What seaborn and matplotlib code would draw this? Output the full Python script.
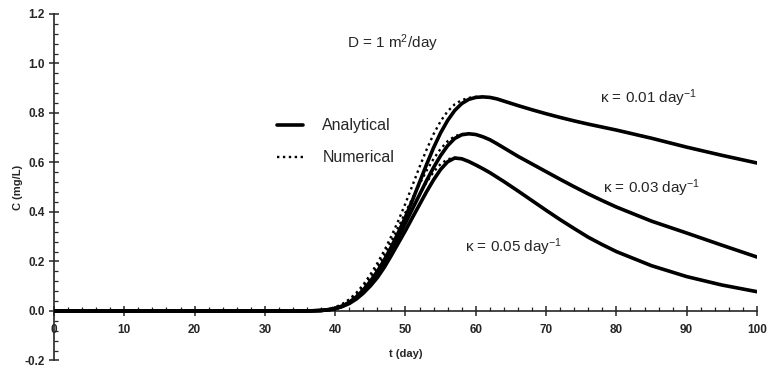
import matplotlib
matplotlib.use("Agg")
from matplotlib import pyplot as plt
from matplotlib.ticker import MultipleLocator, FormatStrFormatter
import seaborn as sns

# time (day)
t = [0, 30,
     36, 37, 38, 39, 40, 41, 42, 43, 44, 45, 46, 47, 48, 49, 50, 51,
     52, 53, 54, 55, 56, 57, 58, 59, 60, 61, 62, 63, 64, 65, 66,
     68, 70, 72, 74, 76, 78, 80, 85, 90, 95, 100]

# analytical solutions, C (mg/L)
ana_k01 = [0, 0,
           0, 0.001, 0.002, 0.005, 0.01, 0.02, 0.035, 0.057, 0.085, 0.12, 0.16, 0.207, 0.26, 0.318, 0.38, 0.448,
           0.52, 0.592, 0.66, 0.72, 0.77, 0.81, 0.838, 0.855, 0.863, 0.865, 0.863, 0.857, 0.848, 0.839, 0.83,
           0.813, 0.797, 0.782, 0.768, 0.755, 0.743, 0.731, 0.698, 0.662, 0.629, 0.598]
ana_k03 = [0, 0,
           0, 0.001, 0.002, 0.005, 0.01, 0.019, 0.033, 0.054, 0.08, 0.112, 0.15, 0.195, 0.245, 0.298, 0.355, 0.413,
           0.47, 0.527, 0.58, 0.628, 0.668, 0.697, 0.712, 0.716, 0.713, 0.704, 0.692, 0.676, 0.659, 0.642, 0.625,
           0.594, 0.563, 0.532, 0.502, 0.473, 0.446, 0.42, 0.363, 0.315, 0.266, 0.218]
ana_k05 = [0, 0,
           0, 0.001, 0.002, 0.005, 0.009, 0.018, 0.03, 0.048, 0.072, 0.101, 0.135, 0.177, 0.225, 0.275, 0.325, 0.378,
           0.43, 0.482, 0.53, 0.572, 0.603, 0.618, 0.615, 0.604, 0.59, 0.575, 0.559, 0.541, 0.523, 0.504, 0.485,
           0.446, 0.407, 0.369, 0.333, 0.298, 0.268, 0.24, 0.183, 0.139, 0.105, 0.078]

# numerical solutions, C (mg/L) -- rising limb; the falling limb overlaps the analytical one
num_k01_rise = [0, 0,
                0, 0.002, 0.004, 0.008, 0.015, 0.028, 0.047, 0.073, 0.106, 0.147, 0.193, 0.245, 0.303, 0.366, 0.435, 0.508,
                0.582, 0.652, 0.715, 0.767, 0.807, 0.835, 0.852, 0.861, 0.865, 0.865, 0.863]
num_k03_rise = [0, 0,
                0, 0.002, 0.004, 0.008, 0.014, 0.026, 0.044, 0.068, 0.099, 0.136, 0.18, 0.229, 0.283, 0.34, 0.398, 0.456,
                0.513, 0.567, 0.615, 0.655, 0.686, 0.706, 0.715, 0.716, 0.713]
num_k05_rise = [0, 0,
                0, 0.002, 0.004, 0.008, 0.013, 0.024, 0.04, 0.062, 0.09, 0.124, 0.165, 0.212, 0.262, 0.314, 0.367, 0.42,
                0.472, 0.52, 0.562, 0.594, 0.613, 0.619, 0.615]

num_k01 = num_k01_rise + ana_k01[len(num_k01_rise):]
num_k03 = num_k03_rise + ana_k03[len(num_k03_rise):]
num_k05 = num_k05_rise + ana_k05[len(num_k05_rise):]

kappa_labels = ["\u03ba = 0.01 day$^{-1}$", "\u03ba = 0.03 day$^{-1}$", "\u03ba = 0.05 day$^{-1}$"]

sns.set_style("ticks")
plt.rcParams["font.family"] = ["Liberation Sans", "DejaVu Sans"]
plt.rcParams["mathtext.default"] = "regular"

fig = plt.figure(figsize=(7.7, 3.68), dpi=100)
ax = fig.add_axes([0.0701, 0.0204, 0.9130, 0.9416])

for i, (a, n) in enumerate([(ana_k01, num_k01), (ana_k03, num_k03), (ana_k05, num_k05)]):
  sns.lineplot(x=t, y=n, ax=ax, color="black", lw=1.7, linestyle=(0, (1, 1.5)),
               label="Numerical" if i == 0 else None, zorder=2)
  sns.lineplot(x=t, y=a, ax=ax, color="black", lw=2.6,
               label="Analytical" if i == 0 else None, zorder=3)

ax.set_xlim(0, 100)
ax.set_ylim(-0.2, 1.2)
ax.spines[["top", "right"]].set_visible(False)
ax.spines["bottom"].set_position(("data", 0))
ax.spines["left"].set_linewidth(1.2)
ax.spines["bottom"].set_linewidth(1.2)

ax.xaxis.set_major_locator(MultipleLocator(10))
ax.xaxis.set_minor_locator(MultipleLocator(2))
ax.yaxis.set_major_locator(MultipleLocator(0.2))
ax.yaxis.set_minor_locator(MultipleLocator(0.04))
ax.yaxis.set_major_formatter(FormatStrFormatter("%.1f"))
ax.tick_params(which="major", direction="inout", length=7, width=1.1, labelsize=8.5)
ax.tick_params(which="minor", direction="in", length=3, width=0.9)
ax.tick_params(axis="x", which="major", pad=6)
ax.tick_params(axis="y", which="major", pad=3)
for lab in ax.get_xticklabels() + ax.get_yticklabels():
  lab.set_fontweight("bold")

ax.set_xlabel("t (day)", fontsize=8, fontweight="bold")
ax.xaxis.set_label_coords(0.5, 0.034)
ax.set_ylabel("C (mg/L)", fontsize=8, fontweight="bold")
ax.yaxis.set_label_coords(-0.044, 0.5)

handles, labels = ax.get_legend_handles_labels()
order = [labels.index("Analytical"), labels.index("Numerical")]
ax.legend([handles[k] for k in order], [labels[k] for k in order],
          loc="upper left", bbox_to_anchor=(31.7, 0.778), bbox_transform=ax.transData,
          frameon=False, fontsize=11.5, handlelength=1.65, handletextpad=1.2,
          labelspacing=1.05, borderpad=0, borderaxespad=0)

ax.text(48.1, 1.083, "D = 1 m$^2$/day", fontsize=11, ha="center", va="center")
ax.text(77.7, 0.86, kappa_labels[0], fontsize=11, ha="left", va="center")
ax.text(78.1, 0.497, kappa_labels[1], fontsize=11, ha="left", va="center")
ax.text(58.5, 0.259, kappa_labels[2], fontsize=11, ha="left", va="center")

fig.savefig("out.png", dpi=100)
